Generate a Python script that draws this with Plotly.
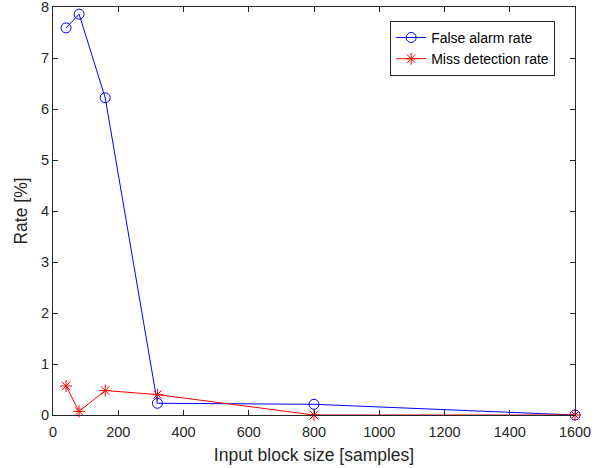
import plotly.graph_objects as go

block_size = [40, 80, 160, 320, 800, 1600]
false_alarm = [7.59, 7.86, 6.22, 0.23, 0.21, 0.0]
miss_detection = [0.57, 0.07, 0.48, 0.40, 0.0, 0.0]

FONT = "Liberation Sans, Arial, sans-serif"

fig = go.Figure()
fig.add_trace(go.Scatter(
    x=block_size, y=false_alarm, mode="lines+markers", name="False alarm rate",
    line=dict(color="#0000ff", width=1),
    marker=dict(symbol="circle-open", size=10, color="#0000ff", line=dict(width=1)),
    cliponaxis=False,
))
fig.add_trace(go.Scatter(
    x=block_size, y=miss_detection, mode="lines+markers", name="Miss detection rate",
    line=dict(color="#ff0000", width=1),
    marker=dict(symbol="asterisk-open", size=10, color="#ff0000", line=dict(width=1, color="#ff0000")),
    cliponaxis=False,
))

axis_common = dict(
    showgrid=False, zeroline=False, showline=True, linecolor="#262626", linewidth=1,
    mirror="ticks", ticks="inside", ticklen=5, tickcolor="#262626", automargin=False,
    ticklabeloverflow="allow",
    tickfont=dict(family=FONT, size=14.5, color="#262626"),
)
fig.update_xaxes(range=[0, 1600.001], tickvals=list(range(0, 1601, 200)),
                 ticklabelstandoff=4,
                 title=dict(text="Input block size [samples]", standoff=9,
                            font=dict(family=FONT, size=17.5, color="#262626")),
                 **axis_common)
fig.update_yaxes(range=[0, 8.00001], tickvals=list(range(0, 9)),
                 title=dict(text="Rate [%]", standoff=8,
                            font=dict(family=FONT, size=17.5, color="#262626")),
                 **axis_common)

fig.update_layout(
    width=608, height=468,
    margin=dict(l=53, r=33, t=7, b=53),
    paper_bgcolor="white", plot_bgcolor="white",
    showlegend=True,
    legend=dict(x=0.962, y=0.966, xanchor="right", yanchor="top",
                bgcolor="white", bordercolor="#262626", borderwidth=1,
                font=dict(family=FONT, size=14, color="#000000"),
                tracegroupgap=0, itemwidth=30),
)

fig.write_html("out.html", config={"displayModeBar": False},
               post_script="document.body.style.margin='0px';")
